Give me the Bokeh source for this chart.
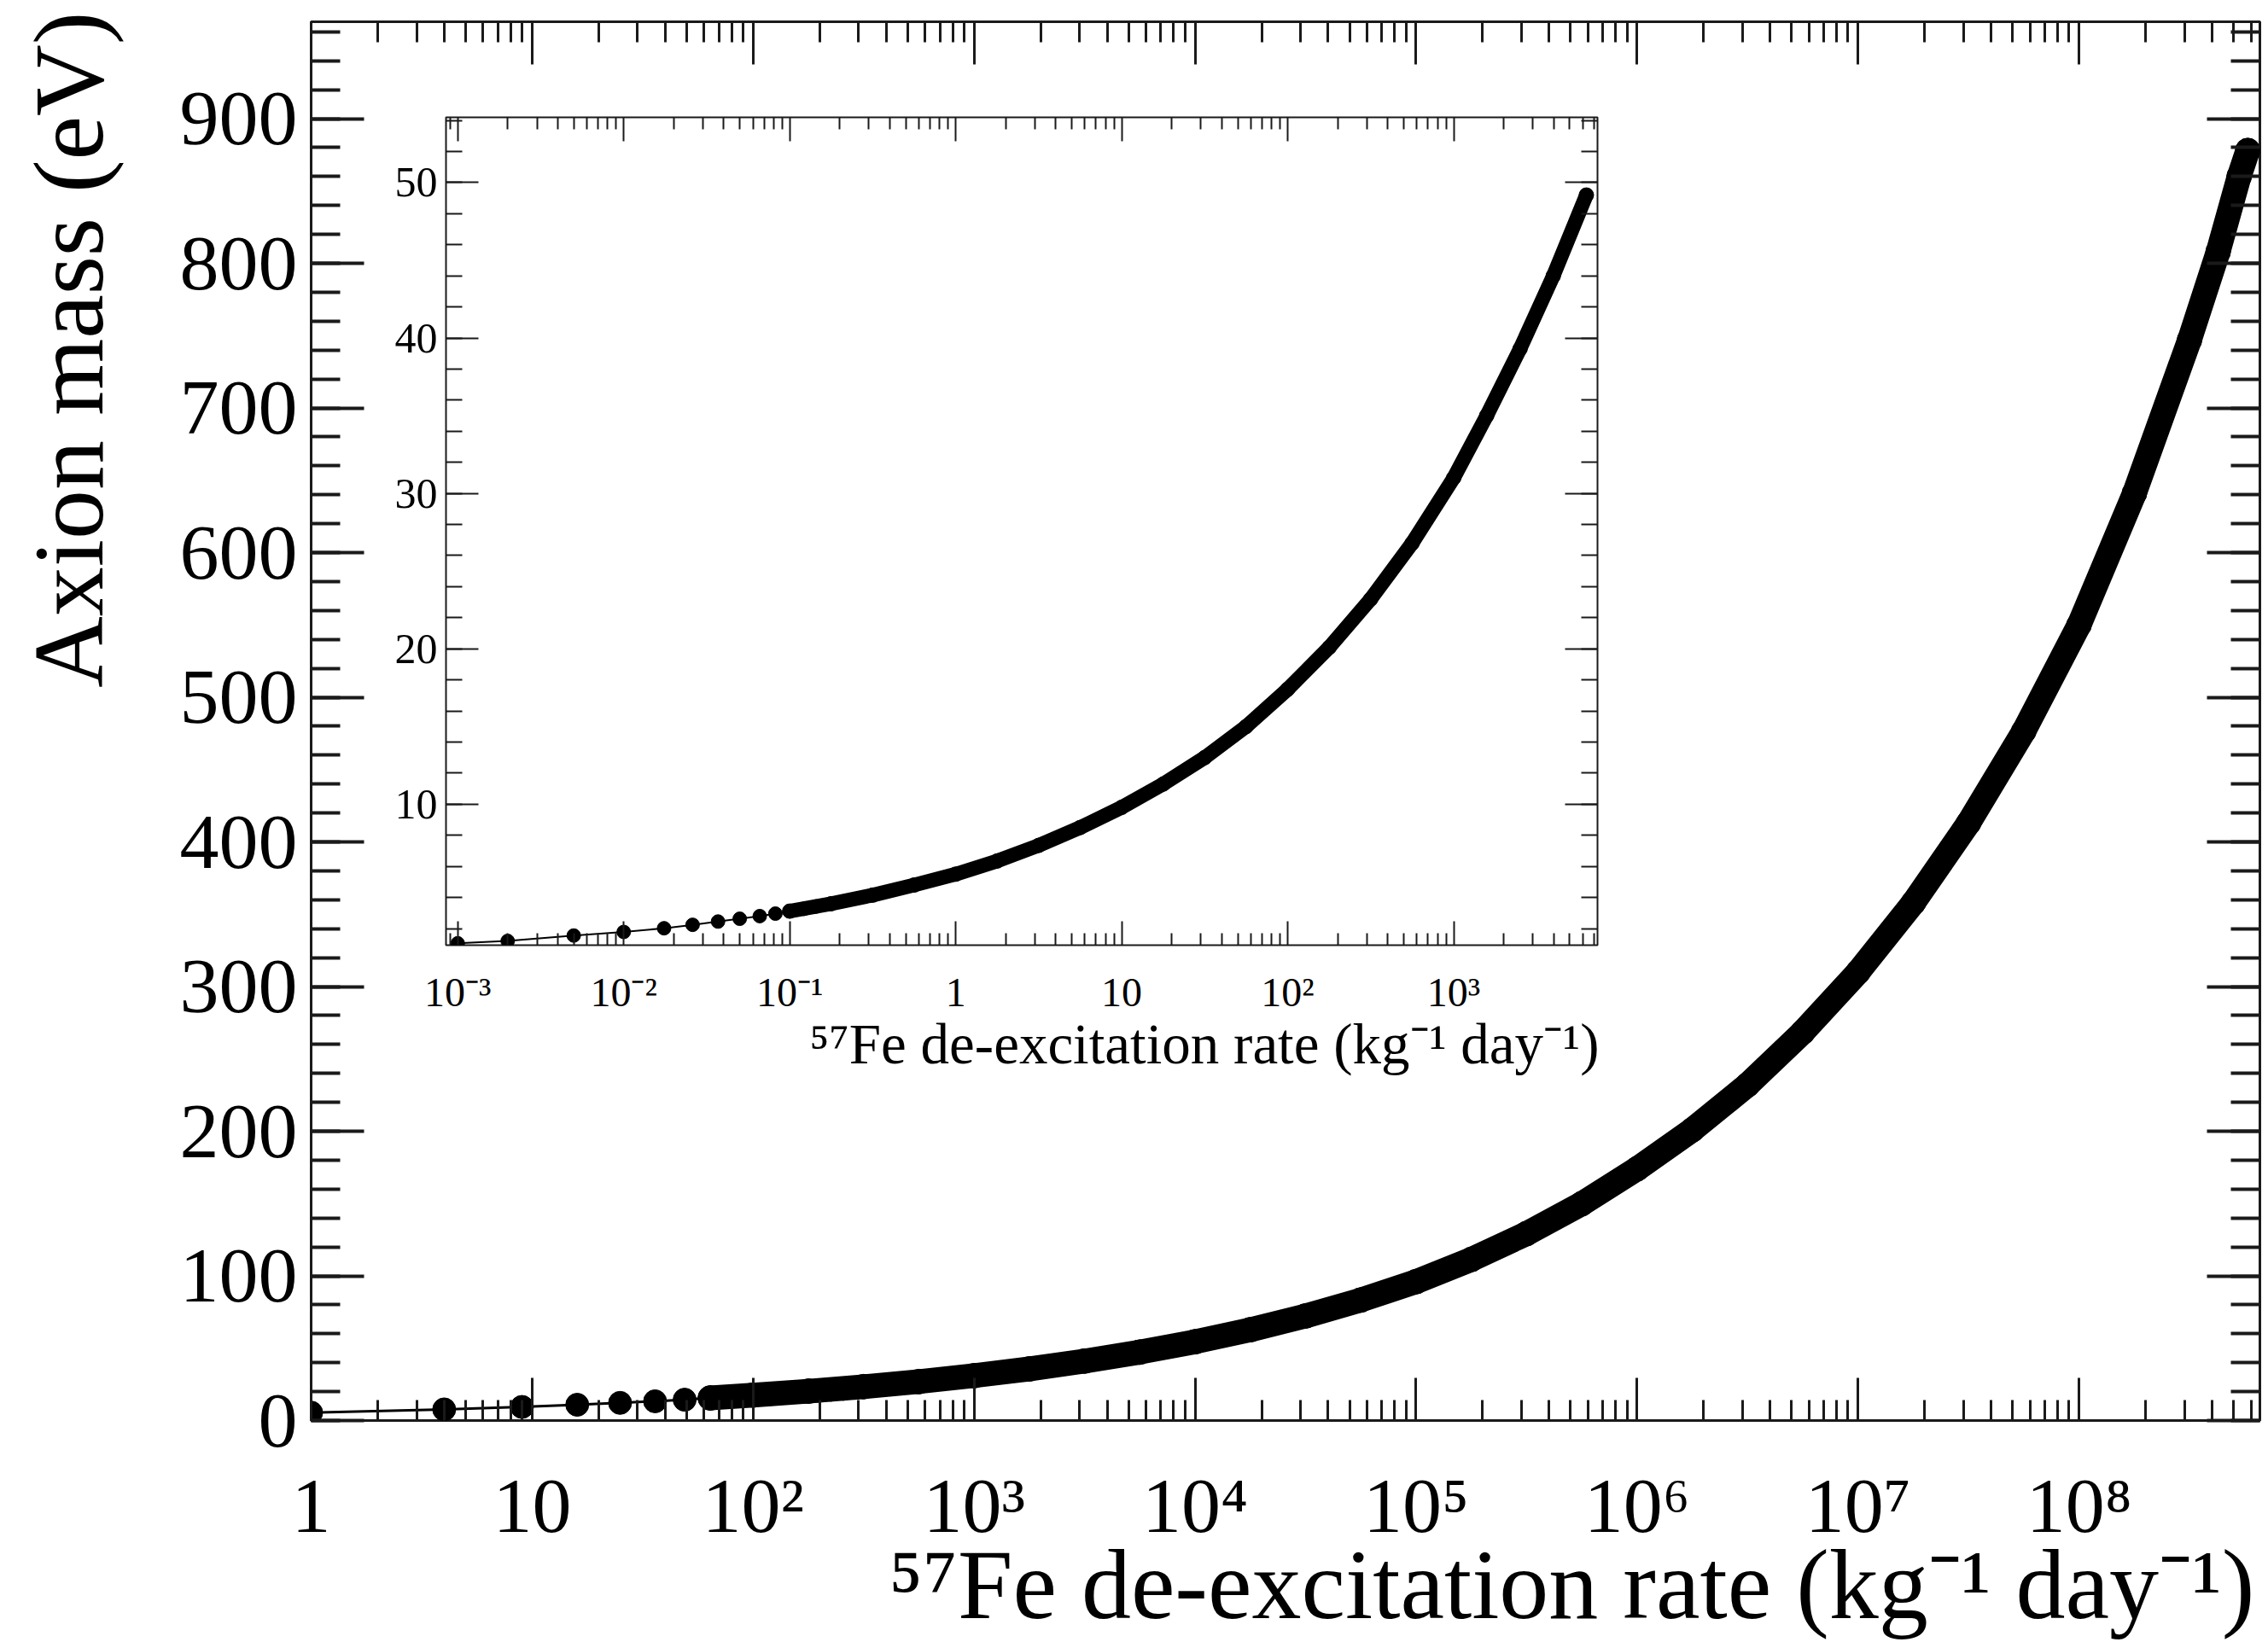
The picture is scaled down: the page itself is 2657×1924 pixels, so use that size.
from bokeh.plotting import figure
from bokeh.models import (Range1d, FixedTicker, LogAxis, LinearAxis, Title,
                          CustomJSTickFormatter, GridBox)
from bokeh.embed import file_html
from bokeh.resources import INLINE

# ---------------- data ----------------
# main panel: separate early points (rate in kg^-1 day^-1, mass in eV)
main_dot_rate = [1, 4, 9, 16, 25, 36, 49, 64, 81, 100, 121, 144, 169, 196, 225,
                 256, 289]
main_dot_mass = [5.5, 7.7, 9.4, 10.9, 12.2, 13.3, 14.4, 15.6, 16.6, 17.6, 18.4,
                 19.2, 19.9, 20.6, 21.3, 21.9, 22.6]
# main panel: dense part of the curve (points overlap into a band)
main_band_rate = [64, 100, 178, 316, 562, 1e3, 1.78e3, 3.16e3, 5.62e3, 1e4,
                  1.78e4, 3.16e4, 5.62e4, 1e5, 1.78e5, 3.16e5, 5.62e5, 1e6,
                  1.78e6, 3.16e6, 5.62e6, 1e7, 1.78e7, 3.16e7, 5.62e7, 1e8,
                  1.78e8, 3.16e8, 4.26e8, 5.3e8, 5.8e8]
main_band_mass = [15.6, 17.6, 20.3, 23.4, 26.9, 31.0, 35.7, 41.1, 47.3, 54.5,
                  62.8, 72.3, 83.3, 96.0, 111.4, 129.2, 149.9, 174.0,
                  201.0, 232.0, 268.5, 310.0, 358.0, 413.0, 476.5, 550.0,
                  641.0, 747.0, 808.0, 860.0, 878.0]

# inset: separate early points
inset_dot_rate = [1e-3, 2e-3, 5e-3, 1e-2, 1.75e-2, 2.6e-2, 3.7e-2, 5e-2, 6.6e-2,
                  8.2e-2, 0.1, 0.122, 0.144]
inset_dot_mass = [1.05, 1.2, 1.55, 1.78, 2.02, 2.24, 2.45, 2.63, 2.8,
                  2.96, 3.12, 3.27, 3.42]
# inset: dense part
inset_band_rate = [0.1, 0.178, 0.316, 0.562, 1, 1.78, 3.16, 5.62, 10, 17.8, 31.6,
                   56.2, 100, 178, 316, 562, 1000, 1580, 2510, 3980, 6300]
inset_band_mass = [3.12, 3.6, 4.15, 4.8, 5.5, 6.35, 7.35, 8.5, 9.8, 11.3, 13.0,
                   15.0, 17.4, 20.1, 23.2, 26.8, 31.0, 35.0, 39.3, 44.0, 49.2]

# tick labels
main_xticks = [1, 10, 100, 1e3, 1e4, 1e5, 1e6, 1e7, 1e8]
main_xlabels = ["1", "10", "10²", "10³", "10⁴", "10⁵", "10⁶", "10⁷", "10⁸"]
main_yticks = [0, 100, 200, 300, 400, 500, 600, 700, 800, 900]
inset_xticks = [1e-3, 1e-2, 0.1, 1, 10, 100, 1e3]
inset_xlabels = ["10⁻³", "10⁻²", "10⁻¹", "1", "10", "10²", "10³"]
inset_yticks = [10, 20, 30, 40, 50]

xlabel_text = "⁵⁷Fe de-excitation rate (kg⁻¹ day⁻¹)"
ylabel_text = "Axion mass (eV)"

FONT = "Liberation Serif"
INK = "#1a1a1a"

# layout: column 0 holds the y-axis title, column 1 the main plot + inset
W0 = 170
TOTAL_W, TOTAL_H = 2657, 1924
B_LEFT, B_RIGHT, B_TOP, B_BOTTOM = 364 - W0, 10, 25, 260


def log_minors(k0, k1):
    return [m * 10.0 ** k for k in range(k0, k1) for m in range(2, 10)]


def style_axis(ax, major_len, minor_len, lw, font_size=None, standoff=10):
    ax.axis_line_color = None
    ax.major_tick_in = major_len
    ax.major_tick_out = 0
    ax.minor_tick_in = minor_len
    ax.minor_tick_out = 0
    ax.major_tick_line_width = lw
    ax.minor_tick_line_width = lw
    ax.major_tick_line_color = INK
    ax.minor_tick_line_color = INK
    ax.major_label_text_font = FONT
    ax.major_label_text_color = "black"
    ax.major_label_standoff = standoff
    if font_size is None:
        ax.formatter = CustomJSTickFormatter(code="return ''")
        ax.major_label_text_font_size = "1px"
        ax.major_label_standoff = 0
    else:
        ax.major_label_text_font_size = font_size


def make_title(text, size, standoff, offset, align="right"):
    return Title(text=text, align=align, offset=offset, standoff=standoff,
                 text_font=FONT, text_font_size=size, text_font_style="normal",
                 text_color="black")


# ---------------- y-axis title holder (column 0) ----------------
ylab = figure(width=W0, height=TOTAL_H, output_backend="svg",
              toolbar_location=None, title_location=None,
              x_axis_location=None, y_axis_location=None,
              min_border_left=0, min_border_right=0,
              min_border_top=B_TOP, min_border_bottom=B_BOTTOM)
ylab.xgrid.visible = False
ylab.ygrid.visible = False
ylab.outline_line_color = None
ylab.background_fill_color = "white"
ylab.border_fill_color = "white"
ylab.add_layout(make_title(ylabel_text, "116px", 28, -12), "left")

# ---------------- main figure ----------------
main = figure(width=TOTAL_W - W0, height=TOTAL_H, x_axis_type="log",
              x_range=Range1d(1, 6.58e8), y_range=Range1d(0, 967),
              output_backend="svg", toolbar_location=None, title_location=None,
              min_border_left=B_LEFT, min_border_right=B_RIGHT,
              min_border_top=B_TOP, min_border_bottom=B_BOTTOM)
main.xgrid.visible = False
main.ygrid.visible = False
main.outline_line_color = INK
main.outline_line_width = 3
main.background_fill_color = "white"
main.border_fill_color = "white"

mx_ticker = FixedTicker(ticks=main_xticks, minor_ticks=log_minors(0, 9))
my_ticker = FixedTicker(ticks=main_yticks,
                        minor_ticks=[v for v in range(0, 967, 20)])

xb = main.xaxis[0]
xb.ticker = mx_ticker
xb.major_label_overrides = dict(zip(main_xticks, main_xlabels))
style_axis(xb, 50, 24, 3, "92px", 48)

yl = main.yaxis[0]
yl.ticker = my_ticker
style_axis(yl, 62, 34, 4, "92px", 16)

xt = LogAxis(ticker=mx_ticker)
style_axis(xt, 50, 24, 3)
main.add_layout(xt, "above")
yr = LinearAxis(ticker=my_ticker)
style_axis(yr, 62, 34, 4)
main.add_layout(yr, "right")

main.add_layout(make_title(xlabel_text, "116px", -54, 6), "below")

main.line(main_dot_rate[:8] + main_band_rate[2:], main_dot_mass[:8] + main_band_mass[2:],
          line_color="black", line_width=3)
main.line(main_band_rate, main_band_mass, line_color="black", line_width=29,
          line_cap="round", line_join="round")
main.scatter(main_dot_rate, main_dot_mass, size=27, color="black")
main.scatter(main_band_rate, main_band_mass, size=29, color="black")

# ---------------- inset figure (same cell as main, shifted by a margin) ----------------
inset = figure(width=1553, height=1255, x_axis_type="log",
               x_range=Range1d(8.5e-4, 7.35e3), y_range=Range1d(0.93, 54.2),
               output_backend="svg", toolbar_location=None, title_location=None,
               min_border_left=B_LEFT, min_border_right=B_RIGHT,
               min_border_top=B_TOP, min_border_bottom=B_BOTTOM)
inset.margin = (112, 0, 0, 158)
inset.xgrid.visible = False
inset.ygrid.visible = False
inset.outline_line_color = INK
inset.outline_line_width = 2
inset.background_fill_color = "white"
inset.border_fill_color = None

ix_ticker = FixedTicker(ticks=inset_xticks, minor_ticks=log_minors(-4, 4))
iy_ticker = FixedTicker(ticks=inset_yticks,
                        minor_ticks=[v for v in range(0, 55, 2)])

ixb = inset.xaxis[0]
ixb.ticker = ix_ticker
ixb.major_label_overrides = dict(zip(inset_xticks, inset_xlabels))
style_axis(ixb, 28, 14, 2, "48px", 28)
iyl = inset.yaxis[0]
iyl.ticker = iy_ticker
style_axis(iyl, 38, 19, 2, "50px", 10)
ixt = LogAxis(ticker=ix_ticker)
style_axis(ixt, 28, 14, 2)
inset.add_layout(ixt, "above")
iyr = LinearAxis(ticker=iy_ticker)
style_axis(iyr, 38, 19, 2)
inset.add_layout(iyr, "right")

inset.add_layout(make_title(xlabel_text, "67px", -16, -2), "below")

inset.line(inset_dot_rate + inset_band_rate[1:], inset_dot_mass + inset_band_mass[1:],
           line_color="black", line_width=2)
inset.line(inset_band_rate, inset_band_mass, line_color="black", line_width=17,
           line_cap="round", line_join="round")
inset.scatter(inset_dot_rate, inset_dot_mass, size=16, color="black")
inset.scatter(inset_band_rate, inset_band_mass, size=17, color="black")

layout = GridBox(children=[(ylab, 0, 0), (main, 0, 1), (inset, 0, 1)])

open("out.html", "w").write(file_html(layout, INLINE))
